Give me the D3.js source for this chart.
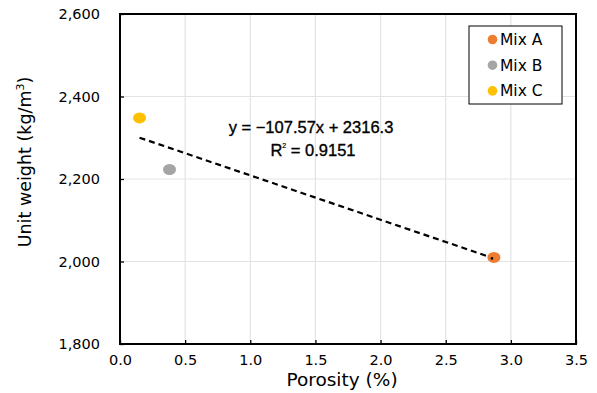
<!DOCTYPE html>
<html>
<head>
<meta charset="utf-8">
<script src="https://cdn.jsdelivr.net/npm/d3@7"></script>
<style>
  body { margin: 0; background: #fff; }
  text { fill: #000; }
</style>
</head>
<body>
<script>
// data
var mixNames = ["Mix A", "Mix B", "Mix C"];
var porosity = [2.87, 0.38, 0.15];
var unitWeight = [2010, 2223, 2348];
var mixColors = ["#ed7d31", "#a5a5a5", "#ffc000"];

var trendSlope = -107.57, trendIntercept = 2316.3;
var trendLabel = "y = \u2212107.57x + 2316.3";
var r2Label = "0.9151";

var xTicks = [0, 0.5, 1, 1.5, 2, 2.5, 3, 3.5];
var yTicks = [1800, 2000, 2200, 2400, 2600];

const canvWidth = 597, canvHeight = 393;
const margin = {top: 14, right: 21, bottom: 49, left: 120};
const width = canvWidth - margin.left - margin.right;
const height = canvHeight - margin.top - margin.bottom;
const wideFont = "'DejaVu Sans', sans-serif";
const eqFont = "'Liberation Sans', Arial, sans-serif";

const svg = d3.select("body").append("svg")
    .attr("width", canvWidth)
    .attr("height", canvHeight)
    .style("font-family", wideFont);

const g = svg.append("g")
    .attr("transform", "translate(" + margin.left + "," + margin.top + ")");

var xScale = d3.scaleLinear().domain([0, 3.5]).range([0, width]);
var yScale = d3.scaleLinear().domain([1800, 2600]).range([height, 0]);

// grid lines
g.append("g").selectAll("line")
    .data(xTicks).enter()
    .append("line")
    .attr("x1", d => xScale(d)).attr("x2", d => xScale(d))
    .attr("y1", 0).attr("y2", height)
    .attr("stroke", "#e3e3e3").attr("stroke-width", 1.2);
g.append("g").selectAll("line")
    .data(yTicks).enter()
    .append("line")
    .attr("x1", 0).attr("x2", width)
    .attr("y1", d => yScale(d)).attr("y2", d => yScale(d))
    .attr("stroke", "#e3e3e3").attr("stroke-width", 1.2);

// axes (ticks inside)
var xAxis = d3.axisBottom(xScale).tickValues(xTicks).tickSizeInner(-4).tickSizeOuter(0)
    .tickPadding(11).tickFormat(d3.format(".1f"));
var yAxis = d3.axisLeft(yScale).tickValues(yTicks).tickSizeInner(-4).tickSizeOuter(0)
    .tickPadding(20).tickFormat(d3.format(","));

var gx = g.append("g").attr("transform", "translate(0," + height + ")").call(xAxis);
var gy = g.append("g").call(yAxis);
[gx, gy].forEach(function (a) {
    a.select(".domain").remove();
    a.selectAll(".tick line").attr("stroke", "#000").attr("stroke-width", 1.3);
    a.selectAll("text").attr("font-size", "14.5px").style("font-family", wideFont);
});

// plot frame
g.append("rect")
    .attr("width", width).attr("height", height)
    .attr("fill", "none").attr("stroke", "#000").attr("stroke-width", 2);

// trend line over the data range
var xMin = d3.min(porosity), xMax = d3.max(porosity);
var trendPts = [xMin, xMax].map(x => ({x: xScale(x), y: yScale(trendSlope * x + trendIntercept)}));
g.append("path")
    .attr("d", d3.line().x(d => d.x).y(d => d.y)(trendPts))
    .attr("stroke", "#000").attr("stroke-width", 2.2)
    .attr("stroke-dasharray", "6,4").attr("fill", "none");

// points
g.selectAll("ellipse.pt")
    .data(mixNames).enter()
    .append("ellipse")
    .attr("class", "pt")
    .attr("cx", (d, i) => xScale(porosity[i]))
    .attr("cy", (d, i) => yScale(unitWeight[i]))
    .attr("rx", 6.5).attr("ry", 5.5)
    .attr("fill", (d, i) => mixColors[i]);

// line end shows over Mix A
g.append("circle")
    .attr("cx", xScale(xMax) - 2).attr("cy", yScale(trendSlope * xMax + trendIntercept))
    .attr("r", 1.3).attr("fill", "#000");

// equation labels
g.append("text")
    .attr("x", 191).attr("y", 119)
    .attr("text-anchor", "middle")
    .style("font-family", eqFont)
    .attr("font-size", "16.5px")
    .attr("stroke", "#000").attr("stroke-width", 0.35)
    .text(trendLabel);
var r2 = g.append("text")
    .attr("x", 193).attr("y", 142)
    .attr("text-anchor", "middle")
    .style("font-family", eqFont)
    .attr("font-size", "16.5px")
    .attr("stroke", "#000").attr("stroke-width", 0.35);
r2.append("tspan").text("R");
r2.append("tspan").attr("font-size", "7px").attr("stroke-width", 0.2).attr("dy", -8).text("2");
r2.append("tspan").attr("dy", 8).text(" = " + r2Label);

// legend
var legend = svg.append("g").attr("transform", "translate(469,26)");
legend.append("rect")
    .attr("width", 93).attr("height", 78)
    .attr("fill", "#fff").attr("stroke", "#000").attr("stroke-width", 1);
var items = legend.selectAll("g.item")
    .data(mixNames).enter()
    .append("g")
    .attr("transform", (d, i) => "translate(0," + (13.5 + i * 25.7) + ")");
items.append("circle")
    .attr("cx", 23.5).attr("cy", 0).attr("r", 4.8)
    .attr("fill", (d, i) => mixColors[i]);
items.append("text")
    .attr("x", 31).attr("y", 5.5)
    .attr("font-size", "15.5px")
    .text(d => d);

// axis titles
svg.append("text")
    .attr("x", 342).attr("y", 386)
    .attr("text-anchor", "middle")
    .attr("font-size", "18.5px")
    .text("Porosity (%)");

var yt = svg.append("text")
    .attr("transform", "translate(31,162) rotate(-90)")
    .attr("text-anchor", "middle")
    .attr("font-size", "17.5px");
yt.append("tspan").text("Unit weight (kg/m");
yt.append("tspan").attr("font-size", "11px").attr("dy", -7).text("3");
yt.append("tspan").attr("dy", 7).text(")");
</script>
</body>
</html>
